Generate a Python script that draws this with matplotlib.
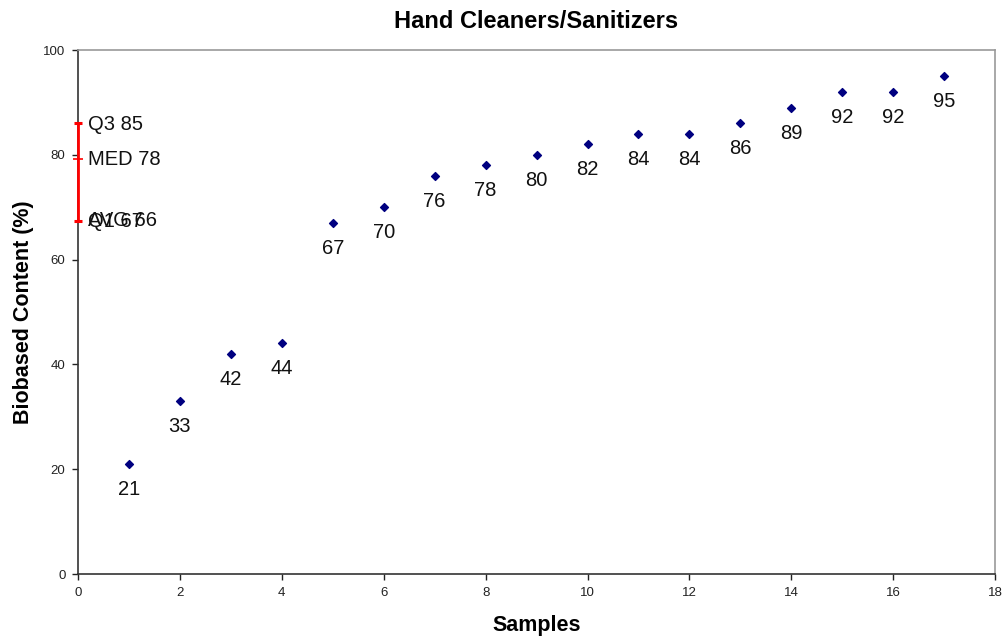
import matplotlib
matplotlib.use("Agg")
import matplotlib.pyplot as plt

plt.rcParams['font.family'] = ['Liberation Sans', 'DejaVu Sans']

samples = list(range(1, 18))
content = [21, 33, 42, 44, 67, 70, 76, 78, 80, 82, 84, 84, 86, 89, 92, 92, 95]
labels = [str(v) for v in content]

q1_val, med_val, q3_val = 67.3, 79.2, 86
stat_texts = [("Q3 85", 85.8), ("MED 78", 79.2), ("AVG 66", 67.5), ("Q1 67", 67.3)]

fig = plt.figure(figsize=(10.03, 6.38), dpi=100)
ax = fig.add_axes([0.0778, 0.1003, 0.9143, 0.8213])

ax.scatter(samples, content, marker='D', s=16, color='#000080', zorder=3)
for x, y, t in zip(samples, content, labels):
    ax.annotate(t, (x, y), xytext=(0, -18.3), textcoords='offset points',
                ha='center', va='center', fontsize=14.5, color='#111111')

ax.errorbar([0], [med_val], yerr=[[med_val - q1_val], [q3_val - med_val]],
            fmt='none', ecolor='red', elinewidth=2, capsize=3.2, capthick=2.2,
            zorder=4, clip_on=False)
ax.plot([0], [med_val], marker='_', color='red', markersize=6.5, mew=1.2,
        zorder=4, clip_on=False)
for t, y in stat_texts:
    ax.text(0.2, y, t, ha='left', va='center', fontsize=14.5, color='#111111')

ax.set_xlim(0, 18)
ax.set_ylim(0, 100)
ax.set_xticks(range(0, 19, 2))
ax.set_yticks(range(0, 101, 20))
ax.tick_params(axis='both', labelsize=9.5, length=4, width=1, direction='out',
               colors='#222222')
ax.tick_params(axis='y', pad=5)
ax.tick_params(axis='x', pad=5)

for s in ['top', 'right']:
    ax.spines[s].set_color('#999999')
    ax.spines[s].set_linewidth(1.2)
for s in ['left', 'bottom']:
    ax.spines[s].set_color('#333333')
    ax.spines[s].set_linewidth(1.2)

ax.set_title("Hand Cleaners/Sanitizers", fontsize=17, fontweight='bold', pad=16)
ax.set_xlabel("Samples", fontsize=15.5, fontweight='bold', labelpad=12)
ax.set_ylabel("Biobased Content (%)", fontsize=15.5, fontweight='bold', labelpad=7)

fig.savefig("out.png", dpi=100)
